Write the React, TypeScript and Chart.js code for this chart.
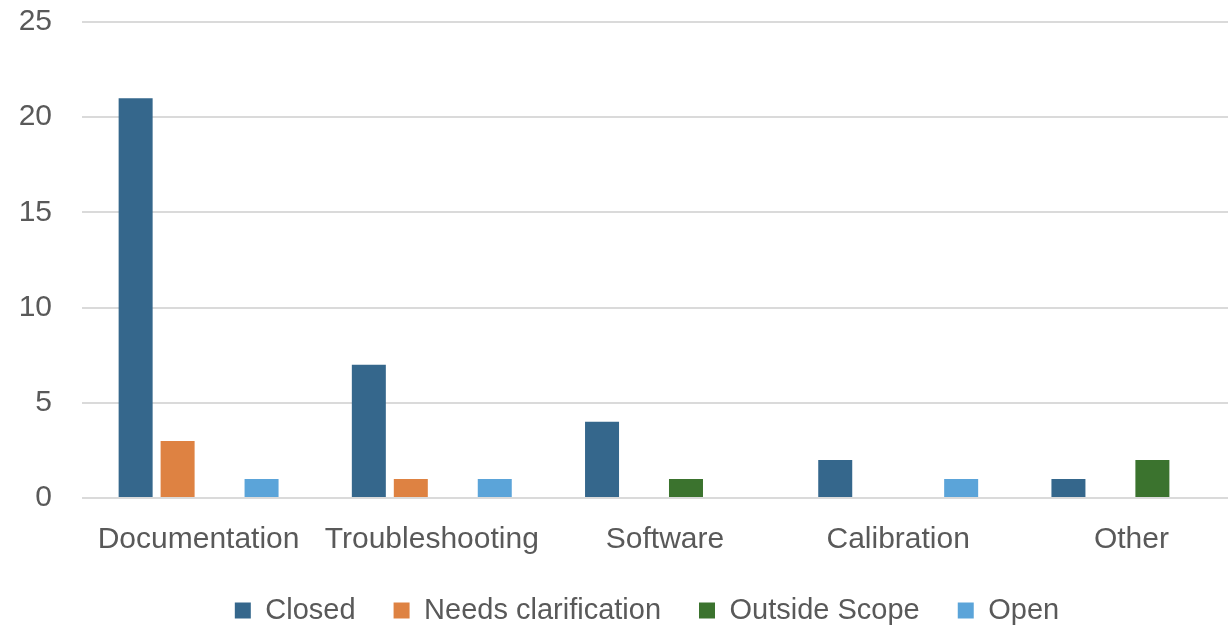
import React, { useEffect, useRef } from "react";
import { Chart, registerables } from "chart.js";

Chart.register(...registerables);

const categories = ["Documentation", "Troubleshooting", "Software", "Calibration", "Other"];
const closed = [21, 7, 4, 2, 1];
const needsClarification = [3, 1, 0, 0, 0];
const outsideScope = [0, 0, 1, 0, 2];
const open = [1, 1, 0, 1, 0];
const yTicks = [0, 5, 10, 15, 20, 25];

export default function App() {
  const ref = useRef<HTMLCanvasElement | null>(null);
  useEffect(() => {
    document.body.style.margin = "0";
    document.body.style.overflow = "hidden";
    if (!ref.current) return;
    const family = "'Liberation Sans', Arial, sans-serif";
    const axisFont = { family, size: 30 };
    const legendFont = { family, size: 29 };
    const ctx = ref.current.getContext("2d")!;
    ctx.font = `30px ${family}`;
    const widest = Math.max(...yTicks.map((v) => ctx.measureText(String(v)).width));
    const mk = (label: string, data: number[], color: string) => ({
      label,
      data,
      backgroundColor: color,
      borderColor: color,
      borderWidth: 0,
      categoryPercentage: 0.72,
      barPercentage: 0.81,
    });
    const chart = new Chart(ref.current, {
      type: "bar",
      data: {
        labels: categories,
        datasets: [
          mk("Closed", closed, "#35678C"),
          mk("Needs clarification", needsClarification, "#DE8242"),
          mk("Outside Scope", outsideScope, "#3B732E"),
          mk("Open", open, "#5BA4D9"),
        ],
      },
      options: {
        animation: false,
        responsive: false,
        maintainAspectRatio: false,
        layout: { autoPadding: false, padding: { top: 22, left: 46, right: 0, bottom: -8 } },
        plugins: {
          tooltip: { enabled: false },
          legend: {
            position: "bottom",
            labels: {
              font: legendFont,
              color: "#595959",
              boxWidth: 16,
              boxHeight: 16,
              padding: 38,
            },
          },
        },
        scales: {
          x: {
            grid: { display: false, drawTicks: false },
            border: { display: false },
            ticks: { font: axisFont, color: "#595959", padding: 24, maxRotation: 0 },
            afterFit: (axis: any) => {
              axis.height = 60;
            },
          },
          y: {
            min: 0,
            max: 25,
            afterBuildTicks: (axis: any) => {
              axis.ticks = yTicks.map((v) => ({ value: v }));
            },
            afterFit: (axis: any) => {
              axis.width = 36;
              axis.paddingTop = 0;
              axis.paddingBottom = 0;
            },
            grid: { color: "#DADADA", lineWidth: 2, drawTicks: false },
            border: { display: false },
            ticks: {
              font: axisFont,
              color: "#595959",
              mirror: true,
              crossAlign: "far",
              padding: -30 - widest,
            },
          },
        },
      },
    } as any);
    return () => chart.destroy();
  }, []);
  return (
    <div style={{ position: "absolute", left: 0, top: 0, width: 1248, height: 627 }}>
      <canvas ref={ref} width={1248} height={627} />
    </div>
  );
}
